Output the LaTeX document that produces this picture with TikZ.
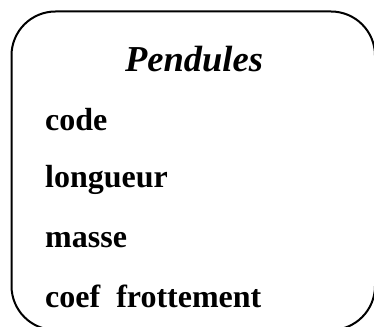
\documentclass[tikz,border=0pt]{standalone}
\usepackage{fontspec}
\setmainfont{Liberation Serif}
\begin{document}
\begin{tikzpicture}[x=1pt,y=1pt,
  frame/.style={draw=black,line width=2pt,rounded corners=44pt},
  title/.style={anchor=base,inner sep=0pt,font=\fontsize{36.5}{40}\selectfont\bfseries\itshape},
  attr/.style={anchor=base west,inner sep=0pt,font=\fontsize{32}{36}\selectfont\bfseries}]
  \useasboundingbox (0,0) rectangle (374,326);
  \clip (0,0) rectangle (374,326);
  % class box, running past the right and lower edges
  \draw[frame] (11.5,314.5) rectangle (375,-4);
  % class name and attributes
  \node[title] (name) at (194,254) {Pendules};
  \node[attr] (a1) at (45,195) {code};
  \node[attr] (a2) at (45,138) {longueur};
  \node[attr] (a3) at (45,78) {masse};
  \node[attr] (a4) at (45,19) {coef\ \ frottement};
\end{tikzpicture}
\end{document}
